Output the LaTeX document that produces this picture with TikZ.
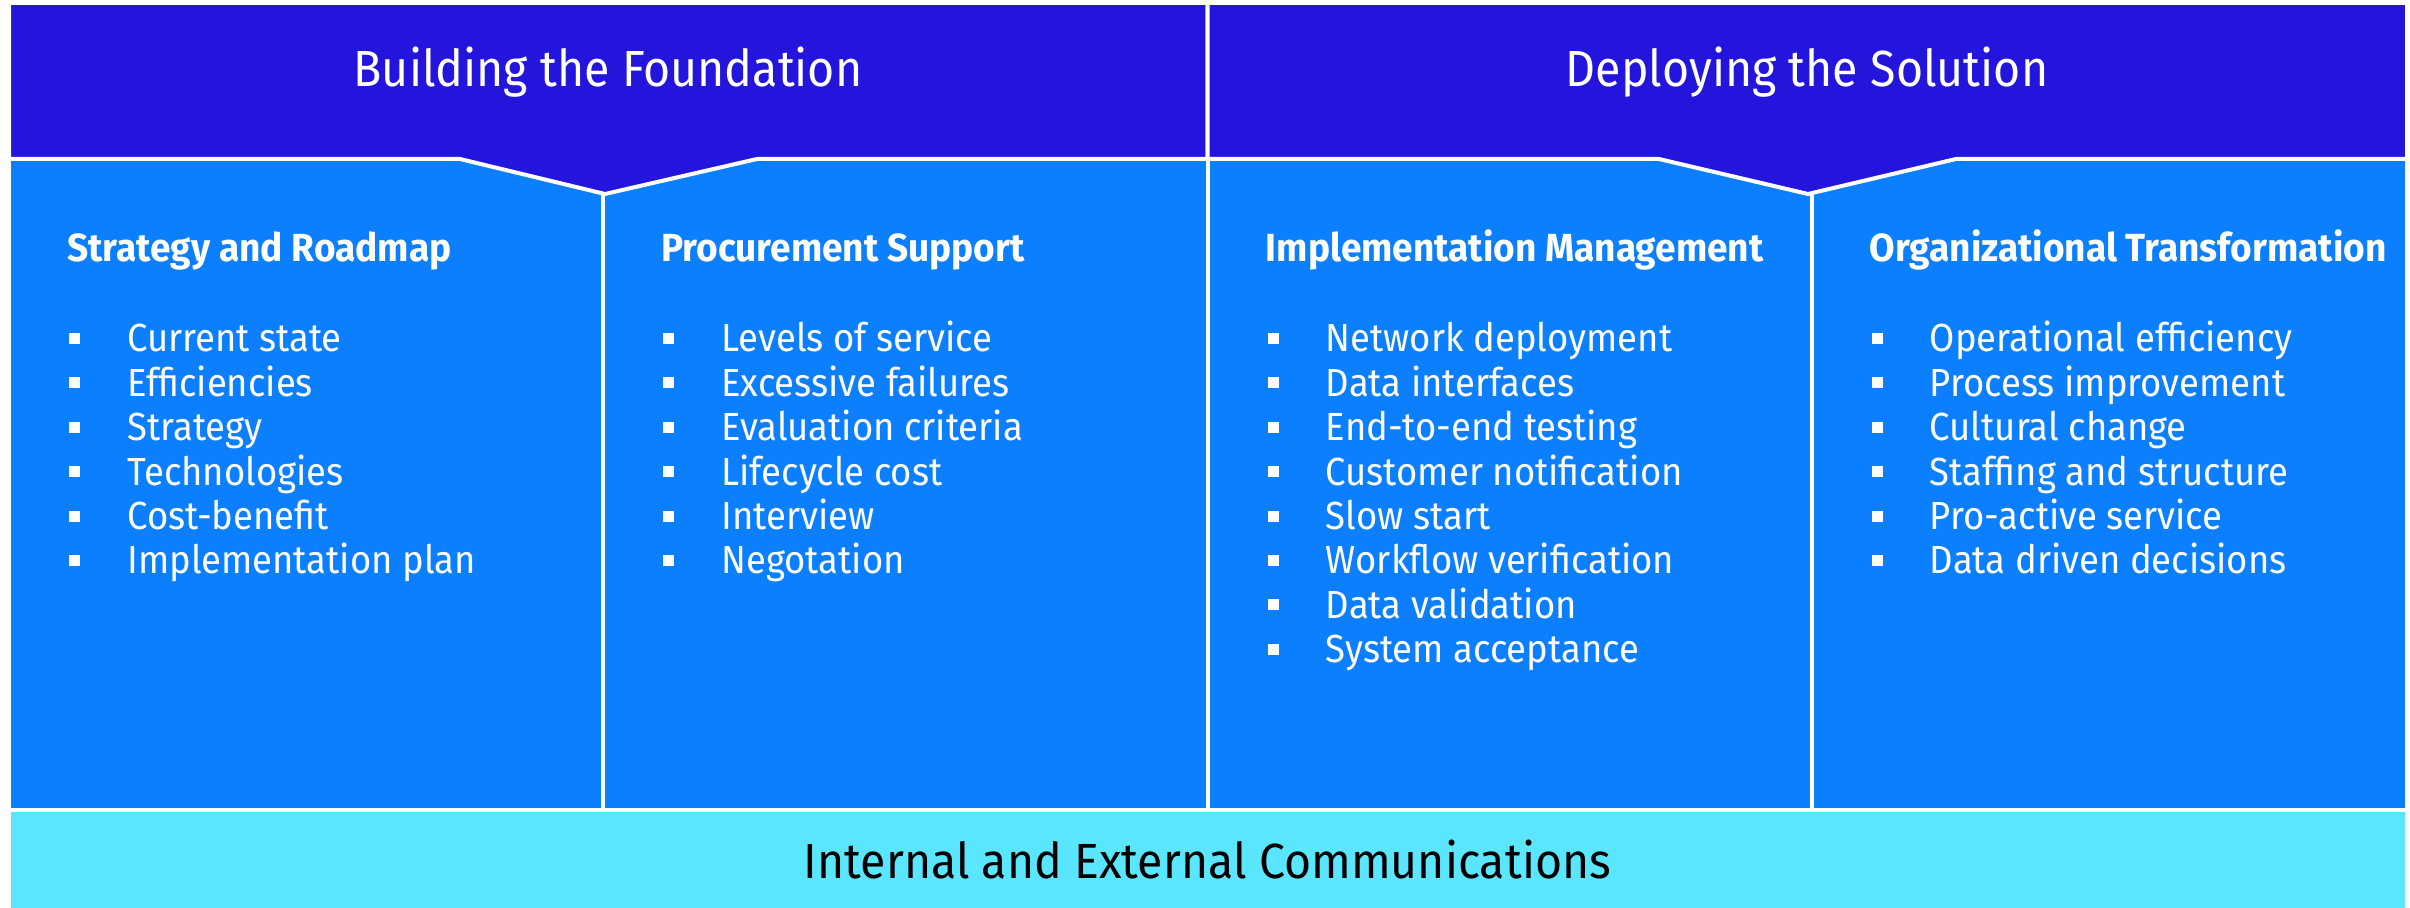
\documentclass[tikz,border=0pt]{standalone}
\usepackage{fontspec}
\setmainfont[FakeStretch=0.93,BoldFeatures={FakeStretch=0.945}]{Fira Sans}
\newfontfamily\hdrfont[FakeStretch=0.916]{Fira Sans}
\newfontfamily\barfont[FakeStretch=0.94]{Fira Sans}
\definecolor{hdrblue}{RGB}{35,21,220}
\definecolor{pnlblue}{RGB}{12,127,255}
\definecolor{barcyan}{RGB}{91,230,255}
\tikzset{
  shp/.style={draw=white, line width=2pt, line join=miter},
  itemtxt/.style={anchor=base west, inner sep=0pt, text=white, font=\fontsize{19.6}{20}\selectfont},
  ttltxt/.style={anchor=base west, inner sep=0pt, text=white, font=\fontsize{19.6}{20}\selectfont\bfseries},
  bulsq/.style={fill=white, minimum size=5.5pt, inner sep=0pt},
  hdrtxt/.style={anchor=base, inner sep=0pt, text=white, font=\hdrfont\fontsize{25.4}{26}\selectfont},
  bartxt/.style={anchor=base, inner sep=0pt, text=black, font=\barfont\fontsize{24.7}{25}\selectfont},
}
\newcommand\panelcol[4]{%
  \node[ttltxt] (#2t) at ({#1+58},262) {#3};
  \foreach \t [count=\i] in {#4} {
    \node[bulsq] (#2b\i) at ({#1+65.5},{338.5+44.4*(\i-1)}) {};
    \node[itemtxt] (#2i\i) at ({#1+118},{352+44.4*(\i-1)}) {\t};
  }
}
\begin{document}
\begin{tikzpicture}[x=0.5pt,y=-0.5pt]
\useasboundingbox (0,0) rectangle (2410,908);
\fill[white] (0,0) rectangle (2410,908);
% panels
\path[shp, fill=pnlblue] (9,159) rectangle (603,809.5);
\path[shp, fill=pnlblue] (603,159) rectangle (1207.5,809.5);
\path[shp, fill=pnlblue] (1207.5,159) rectangle (1811.5,809.5);
\path[shp, fill=pnlblue] (1811.5,159) rectangle (2407,809.5);
% headers
\path[shp, fill=hdrblue] (9,3) -- (1207.5,3) -- (1207.5,159) -- (757,159) -- (605,194) -- (460,159) -- (9,159) -- cycle;
\path[shp, fill=hdrblue] (1207.5,3) -- (2407,3) -- (2407,159) -- (1956,159) -- (1808,194) -- (1659,159) -- (1207.5,159) -- cycle;
% bottom bar
\path[shp, fill=barcyan] (9,809.5) rectangle (2407,914);
% texts
\node[hdrtxt] (h1) at (608,87) {Building the Foundation};
\node[hdrtxt] (h2) at (1807,87) {Deploying the Solution};
\node[bartxt] (bt) at (1207.5,878) {Internal and External Communications};
\panelcol{9}{a}{Strategy and Roadmap}{Current state,Efficiencies,Strategy,Technologies,Cost-benefit,Implementation plan}
\panelcol{603}{b}{Procurement Support}{Levels of service,Excessive failures,Evaluation criteria,Lifecycle cost,Interview,Negotation}
\panelcol{1207.5}{c}{Implementation Management}{Network deployment,Data interfaces,End-to-end testing,Customer notification,Slow start,Workflow verification,Data validation,System acceptance}
\panelcol{1811.5}{d}{Organizational Transformation}{Operational efficiency,Process improvement,Cultural change,Staffing and structure,Pro-active service,Data driven decisions}
\end{tikzpicture}
\end{document}
